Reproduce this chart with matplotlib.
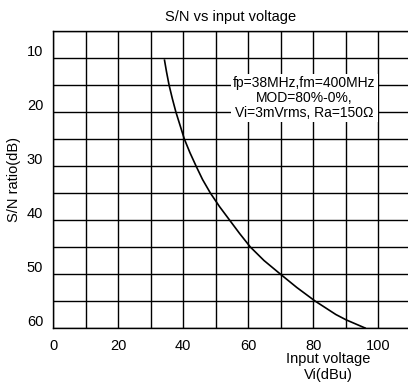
import matplotlib
matplotlib.use("Agg")
import matplotlib.pyplot as plt
from matplotlib.transforms import offset_copy

plt.rcParams['font.family'] = ['Liberation Sans', 'DejaVu Sans']

# curve
vin = [34.3, 34.9, 35.7, 36.7, 37.8, 39.1, 40.4, 42.1, 44.0, 46.0, 48.4,
       51.2, 54.3, 57.4, 60.7, 64.9, 69.9, 75.0, 80.6, 87.0, 90.2, 96.0]
sn = [10.4, 12.5, 15.0, 17.5, 20.0, 22.5, 25.0, 27.5, 30.0, 32.5, 35.0,
      37.5, 40.0, 42.5, 45.0, 47.5, 50.0, 52.5, 55.0, 57.5, 58.5, 60.0]

xticks = [0, 20, 40, 60, 80, 100]
yticks = [10, 20, 30, 40, 50, 60]
xgrid = list(range(0, 110, 10))
ygrid = list(range(5, 65, 5))

note = "fp=38MHz,fm=400MHz\nMOD=80%-0%,\nVi=3mVrms, Ra=150\u03a9"

fig = plt.figure(figsize=(4.08, 3.85), dpi=100)
ax = fig.add_axes([53/408, 1-328/385, 1-53/408, (328-31)/385])

for g in xgrid:
    ax.axvline(g, color='black', lw=1.0, zorder=1)
for g in ygrid:
    ax.axhline(g, color='black', lw=1.0, zorder=1)

ax.plot(vin, sn, color='black', lw=1.2, zorder=3, solid_joinstyle='round')

ax.set_xlim(0, 109.2)
ax.set_ylim(60, 5)
ax.set_xticks(xticks)
ax.set_yticks(yticks)
ax.tick_params(length=0, labelsize=10.5, pad=8)
ax.tick_params(axis='y', pad=7)
for lbl in ax.get_yticklabels():
    lbl.set_transform(offset_copy(lbl.get_transform(), fig=fig, x=0, y=7, units='dots'))

for s in ['left', 'top', 'bottom']:
    ax.spines[s].set_linewidth(1.0)
ax.spines['right'].set_visible(False)

ax.set_title("S/N vs input voltage", fontsize=10.5, pad=7)
ax.set_ylabel("S/N ratio(dB)", fontsize=10.5, labelpad=4)
fig.text(328/408, 1-367/385, "Input voltage\nVi(dBu)", ha='center', va='center',
         fontsize=10.5, linespacing=1.1)

ax.text(77.3, 17.4, note, ha='center', va='center', fontsize=10, linespacing=1.1,
        bbox=dict(facecolor='white', edgecolor='none', pad=1.5), zorder=4)

fig.savefig("out.png", dpi=100)
